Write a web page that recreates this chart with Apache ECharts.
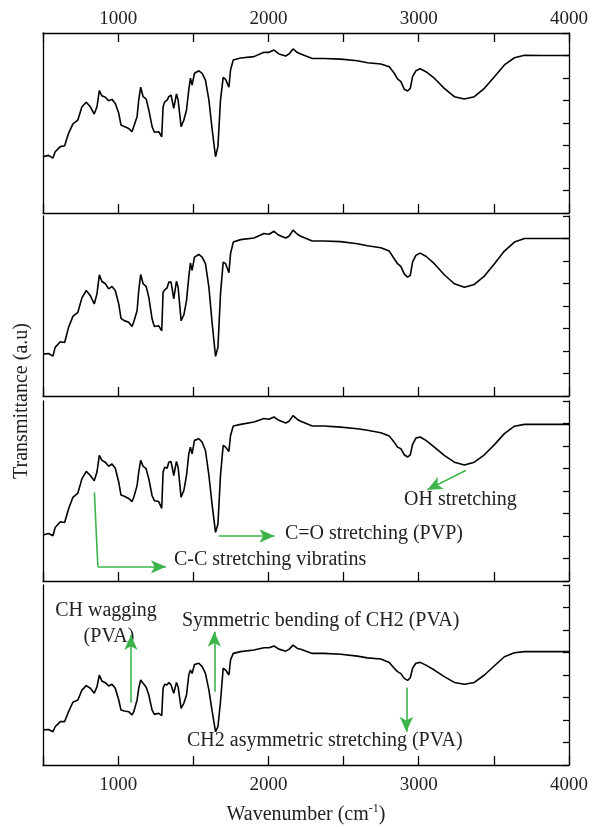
<!DOCTYPE html>
<html><head><meta charset="utf-8">
<script src="https://cdn.jsdelivr.net/npm/echarts@6/dist/echarts.min.js"></script>
<style>html,body{margin:0;padding:0;background:#fff}#c{width:597px;height:827px}</style>
</head><body><div id="c"></div>
<script>
// Wavenumber (cm-1) sample positions shared by the four spectra
const wavenumbers = [500,537,566,581,615,644,670,699,732,759,788,815,841,859,875,892,915,937,959,981,
  1004,1019,1041,1070,1092,1104,1126,1137,1150,1166,1186,1204,1226,1241,1270,1290,1299,1310,1326,1337,
  1352,1370,1388,1399,1419,1437,1455,1470,1481,1492,1508,1537,1559,1581,1604,1626,1648,1664,1681,1699,
  1715,1737,1748,1766,1815,1904,1970,2004,2037,2070,2115,2137,2164,2193,2215,
  2292,2370,2481,2592,2659,2748,2804,2837,2859,2881,2904,2926,2944,2959,2981,3010,3048,3104,3170,3237,
  3304,3370,3437,3504,3570,3637,3704,3815,4000];
// Transmittance (a.u.) per panel, top to bottom
const panel1 = [2.50,2.56,2.44,2.72,2.95,2.99,3.54,3.96,4.13,4.72,4.92,4.72,4.40,4.72,5.44,5.21,5.14,4.99,5.05,4.87,
  4.43,3.91,3.84,3.76,3.61,3.84,4.28,5.02,5.59,5.17,5.07,4.58,3.84,3.59,3.61,3.39,4.72,4.94,5.02,5.17,
  5.24,4.65,5.29,5.02,3.84,4.13,4.58,5.47,5.99,5.69,6.21,6.32,6.21,5.91,5.02,3.69,2.50,2.95,5.02,6.03,
  5.94,5.59,6.36,6.80,6.89,6.95,7.14,7.14,7.24,7.07,6.98,7.07,7.29,7.13,7.07,
  6.87,6.87,6.84,6.77,6.68,6.62,6.50,6.21,5.96,5.84,5.50,5.42,5.54,6.06,6.32,6.41,6.28,5.99,5.54,5.17,
  5.07,5.17,5.54,6.06,6.58,6.90,7.01,7.00,7.00];
const panel2 = [1.86,1.89,1.77,2.16,2.41,2.38,3.05,3.54,3.72,4.36,4.69,4.46,4.09,4.54,5.39,5.09,4.99,4.76,4.87,4.69,
  4.09,3.45,3.35,3.28,3.09,3.30,3.79,4.69,5.40,4.99,4.87,4.39,3.42,3.09,3.12,2.90,4.61,4.72,4.81,5.06,
  5.06,4.32,5.10,4.84,3.35,3.60,4.24,5.28,5.91,5.58,6.17,6.29,6.17,5.88,4.83,3.20,1.76,2.16,4.54,5.95,
  5.88,5.48,6.33,6.84,6.95,7.02,7.22,7.19,7.32,7.14,7.02,7.10,7.37,7.19,7.10,
  6.89,6.89,6.86,6.77,6.68,6.59,6.44,6.10,5.88,5.76,5.43,5.28,5.36,5.95,6.25,6.35,6.21,5.88,5.39,4.99,
  4.83,4.96,5.33,5.88,6.44,6.84,7.00,7.00,7.00];
const panel3 = [2.04,2.11,2.01,2.38,2.63,2.60,3.20,3.72,3.91,4.54,4.87,4.69,4.46,4.84,5.58,5.36,5.28,5.10,5.20,5.01,
  4.39,3.82,3.77,3.67,3.53,3.72,4.24,4.84,5.36,5.10,4.99,4.54,3.79,3.57,3.53,3.23,4.84,5.06,5.01,5.28,
  5.31,4.69,5.31,5.06,3.72,4.02,4.69,5.65,5.95,5.65,6.25,6.32,6.17,5.80,4.69,3.35,2.16,2.53,4.69,6.03,
  5.95,5.76,6.47,6.89,6.96,7.07,7.22,7.19,7.29,7.14,7.02,7.10,7.35,7.18,7.10,
  6.89,6.89,6.84,6.77,6.70,6.59,6.44,6.17,5.95,5.88,5.61,5.51,5.61,6.06,6.35,6.40,6.25,5.95,5.58,5.28,
  5.16,5.28,5.61,6.06,6.55,6.88,6.96,6.96,6.96];
const panel4 = [1.56,1.58,1.48,1.70,1.93,1.93,2.37,2.79,2.89,3.33,3.53,3.41,3.19,3.47,4.00,3.73,3.66,3.51,3.59,3.41,
  2.89,2.44,2.40,2.37,2.22,2.37,2.89,3.41,3.78,3.63,3.47,3.11,2.44,2.25,2.30,2.19,3.41,3.59,3.56,3.67,
  3.56,3.19,3.67,3.47,2.52,2.74,3.11,4.00,4.22,4.07,4.47,4.52,4.37,4.07,3.33,2.37,1.48,1.70,2.81,4.30,
  4.22,4.00,4.67,4.96,5.04,5.11,5.21,5.21,5.29,5.15,5.06,5.14,5.33,5.18,5.14,
  4.96,4.96,4.92,4.84,4.76,4.71,4.56,4.30,4.15,4.06,3.85,3.76,3.88,4.30,4.52,4.56,4.44,4.22,3.93,3.67,
  3.59,3.67,4.00,4.41,4.81,4.99,5.04,5.04,5.04];
const xLabelTicks = [1000, 2000, 3000, 4000];
const xTitle = 'Wavenumber (cm';
const yTitle = 'Transmittance (a.u)';

const panels = [panel1, panel2, panel3, panel4];
const FONT = 'Liberation Serif';
const GREEN = '#3cb44b';
const gridTops = [33, 216, 401, 585];
const chart = echarts.init(document.getElementById('c'), null, {renderer: 'canvas'});

const axisLine = {show: true, onZero: false, lineStyle: {color: '#000', width: 1.3}};
const xLabel = (show, margin) => ({
  show, margin, color: '#222', fontFamily: FONT, fontSize: 19,
  formatter: v => (xLabelTicks.indexOf(v) >= 0 ? String(v) : '')
});
const xAxes = [];
for (let i = 0; i < 4; i++) {
  xAxes.push({gridIndex: i, type: 'value', min: 500, max: 4000, interval: 500, position: 'bottom',
    axisLine, axisTick: {inside: true, length: 9, lineStyle: {color: '#000', width: 1.3}},
    axisLabel: xLabel(i === 3, 11), splitLine: {show: false},
    name: i === 3 ? '{a|' + xTitle + '}{s|-1}{a|)}' : '', nameLocation: 'middle', nameGap: 38,
    nameTextStyle: {rich: {a: {fontFamily: FONT, fontSize: 20, color: '#222'},
                           s: {fontFamily: FONT, fontSize: 12, color: '#222', padding: [0, 0, 11, 0]}}}});
}
xAxes.push({gridIndex: 0, type: 'value', min: 500, max: 4000, interval: 500, position: 'top',
  axisLine, axisTick: {inside: true, length: 9, lineStyle: {color: '#000', width: 1.3}},
  axisLabel: xLabel(true, 4), splitLine: {show: false}});
const yAxes = [];
for (let i = 0; i < 4; i++) {
  yAxes.push({gridIndex: i, type: 'value', min: 0, max: 8, interval: 1, position: 'left',
    axisLine, axisTick: {show: false}, axisLabel: {show: false}, splitLine: {show: false}});
}
for (let i = 0; i < 4; i++) {
  yAxes.push({gridIndex: i, type: 'value', min: 0, max: 8, interval: 1, position: 'right',
    axisLine, axisTick: {inside: true, length: 6, lineStyle: {color: '#000', width: 1.3}},
    axisLabel: {show: false}, splitLine: {show: false}});
}

function arrow(a, b, head) {
  return [{coord: a, symbol: 'none'}, {coord: b, symbol: head ? 'arrow' : 'none'}];
}
const marks = [
  [], [],
  [arrow([842, 3.94], [865, 0.63], false), arrow([865, 0.63], [1318, 0.63], true),
   arrow([1669, 2.0], [2040, 2.0], true), arrow([3313, 4.91], [3058, 4.06], true)],
  [arrow([1085, 2.77], [1085, 5.78], true), arrow([1640, 3.26], [1640, 5.92], true),
   arrow([2918, 3.44], [2918, 1.48], true)]
];

const series = panels.map((p, i) => ({
  type: 'line', xAxisIndex: i, yAxisIndex: i, showSymbol: false, symbol: 'none',
  data: wavenumbers.map((w, k) => [w, p[k]]),
  lineStyle: {color: '#000', width: 1.6}, animation: false, silent: true,
  markLine: {silent: true, animation: false, symbolSize: [10, 15], label: {show: false},
    lineStyle: {color: GREEN, width: 1.6, type: 'solid'}, data: marks[i]}
}));

const ANN = 20;
const txt = (text, x, y, align) => ({type: 'text', x, y,
  style: {text, fontFamily: FONT, fontSize: ANN, fill: '#222', textVerticalAlign: 'middle', textAlign: align || 'left'}});

chart.setOption({
  animation: false,
  grid: gridTops.map(t => ({left: 43, right: 28, top: t, height: 180, containLabel: false, outerBoundsMode: 'none'})),
  xAxis: xAxes, yAxis: yAxes, series,
  graphic: [
    txt('C-C stretching vibratins', 174, 560),
    txt('C=O stretching (PVP)', 285, 534),
    txt('OH stretching', 404, 500),
    txt('CH wagging', 106, 611, 'center'),
    txt('(PVA)', 109, 637, 'center'),
    txt('Symmetric bending of CH2 (PVA)', 182, 621),
    txt('CH2 asymmetric stretching (PVA)', 187, 741),
    {type: 'text', x: 22, y: 401, rotation: Math.PI / 2,
     style: {text: yTitle, fontFamily: FONT, fontSize: 20, fill: '#222', textAlign: 'center', textVerticalAlign: 'middle'}}
  ]
});
</script></body></html>
